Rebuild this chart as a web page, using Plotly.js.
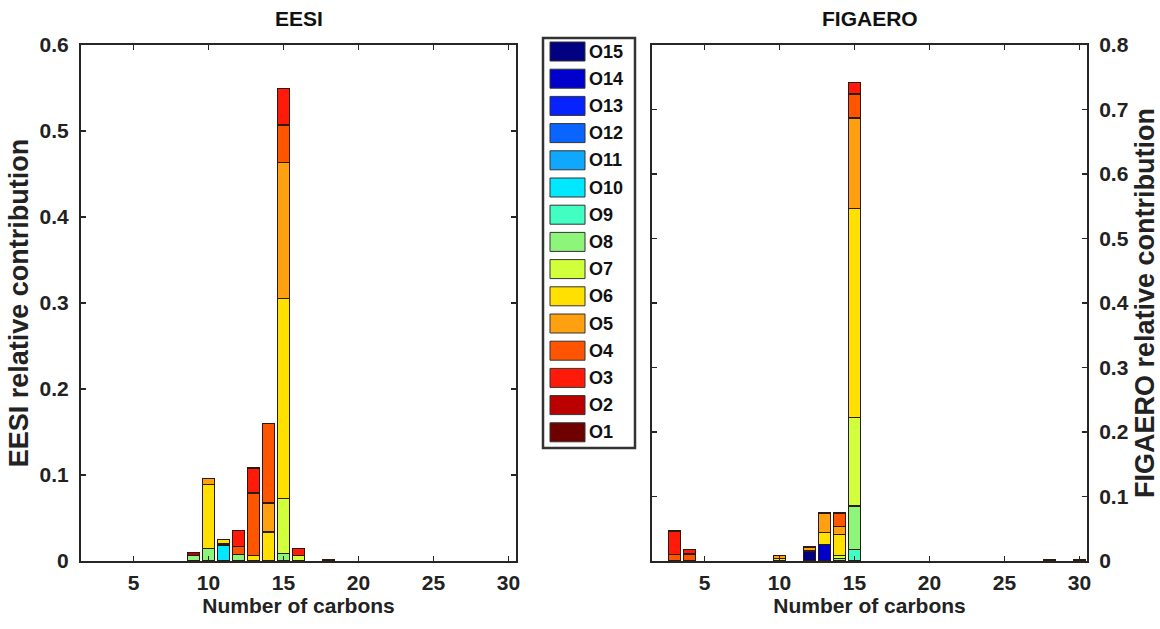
<!DOCTYPE html>
<html>
<head>
<meta charset="utf-8">
<script src="https://cdn.plot.ly/plotly-3.0.1.min.js"></script>
<style>html,body{margin:0;padding:0;background:#fff;}#chart{width:1160px;height:629px;}</style>
</head>
<body>
<div id="chart"></div>
<script>
// ---------- data ----------
const seriesNames = ['O1','O2','O3','O4','O5','O6','O7','O8','O9','O10','O11','O12','O13','O14','O15'];
const seriesColors = ['#6e0000','#bb0000','#ff1a0a','#ff5500','#ffa010','#ffe000','#d2ff3c','#8cf57a','#40ffc0','#00e8ff','#10a8ff','#0a64ff','#0522ff','#0000cc','#000080'];
const xTickVals = [5,10,15,20,25,30];

// EESI (carbon numbers and contribution of each oxygen class)
const eesiCarbons = [9, 10, 11, 12, 13, 14, 15, 16, 18];
const eesiO1  = [0, 0, 0, 0, 0, 0, 0, 0, 0];
const eesiO2  = [0.003, 0, 0, 0, 0, 0, 0, 0, 0];
const eesiO3  = [0, 0, 0, 0.0186, 0.029, 0, 0.0427, 0.0085, 0];
const eesiO4  = [0, 0, 0, 0.009, 0.073, 0.0926, 0.0437, 0, 0];
const eesiO5  = [0, 0.007, 0, 0, 0, 0.0337, 0.158, 0, 0.0015];
const eesiO6  = [0, 0.0744, 0.005, 0, 0.006, 0.0337, 0.2326, 0, 0];
const eesiO7  = [0, 0, 0, 0, 0, 0, 0.0637, 0.006, 0];
const eesiO8  = [0.0065, 0.0148, 0.0015, 0.0075, 0, 0, 0.009, 0, 0];
const eesiO9  = [0, 0, 0, 0, 0, 0, 0, 0, 0];
const eesiO10 = [0, 0, 0.0185, 0, 0, 0, 0, 0, 0];
const eesiO11 = [0, 0, 0, 0, 0, 0, 0, 0, 0];
const eesiO12 = [0, 0, 0, 0, 0, 0, 0, 0, 0];
const eesiO13 = [0, 0, 0, 0, 0, 0, 0, 0, 0];
const eesiO14 = [0, 0, 0, 0, 0, 0, 0, 0, 0];
const eesiO15 = [0, 0, 0, 0, 0, 0, 0, 0, 0];

// FIGAERO
const figCarbons = [3, 4, 10, 12, 13, 14, 15, 28, 30];
const figO1  = [0, 0, 0, 0, 0, 0, 0, 0, 0];
const figO2  = [0, 0, 0, 0, 0, 0, 0, 0, 0];
const figO3  = [0.036, 0.007, 0, 0, 0, 0, 0.018, 0, 0];
const figO4  = [0.0105, 0.011, 0, 0, 0, 0.0207, 0.0372, 0, 0];
const figO5  = [0, 0, 0.005, 0.006, 0.0305, 0.0124, 0.140, 0.002, 0.002];
const figO6  = [0, 0, 0.004, 0, 0.0186, 0.0326, 0.324, 0, 0];
const figO7  = [0, 0, 0, 0, 0, 0.0045, 0.1376, 0, 0];
const figO8  = [0, 0, 0, 0, 0, 0.004, 0.0676, 0, 0];
const figO9  = [0, 0, 0, 0, 0, 0, 0.0177, 0, 0];
const figO10 = [0, 0, 0, 0, 0, 0, 0, 0, 0];
const figO11 = [0, 0, 0, 0, 0, 0, 0, 0, 0];
const figO12 = [0, 0, 0, 0, 0, 0, 0, 0, 0];
const figO13 = [0, 0, 0, 0, 0, 0, 0, 0, 0];
const figO14 = [0, 0, 0, 0, 0.0253, 0, 0, 0, 0];
const figO15 = [0, 0, 0, 0.0155, 0, 0, 0, 0, 0];

const eesiSeries = [eesiO1,eesiO2,eesiO3,eesiO4,eesiO5,eesiO6,eesiO7,eesiO8,eesiO9,eesiO10,eesiO11,eesiO12,eesiO13,eesiO14,eesiO15];
const figSeries  = [figO1,figO2,figO3,figO4,figO5,figO6,figO7,figO8,figO9,figO10,figO11,figO12,figO13,figO14,figO15];

// ---------- traces (O15 at the bottom of each stack, O1 on top) ----------
const traces = [];
for (let i = seriesNames.length - 1; i >= 0; i--) {
  traces.push({
    type: 'bar', name: seriesNames[i], x: eesiCarbons,
    y: eesiSeries[i].map(v => v === 0 ? null : v),
    xaxis: 'x', yaxis: 'y', width: 0.8, showlegend: false,
    marker: {color: seriesColors[i], line: {color: '#2a1a10', width: 1.3}}
  });
}
for (let i = seriesNames.length - 1; i >= 0; i--) {
  traces.push({
    type: 'bar', name: seriesNames[i], x: figCarbons,
    y: figSeries[i].map(v => v === 0 ? null : v),
    xaxis: 'x2', yaxis: 'y2', width: 0.8, showlegend: false,
    marker: {color: seriesColors[i], line: {color: '#2a1a10', width: 1.3}}
  });
}

// ---------- layout ----------
const W = 1160, H = 629;
const px = v => v / W, py = v => 1 - v / H;
const FONT = 'Liberation Sans, Arial, Helvetica, sans-serif';
const tickFont = {family: FONT, size: 21, color: '#222', weight: 'bold'};
const xTitleFont = {family: FONT, size: 21, color: '#222', weight: 'bold'};
const yTitleFont = {family: FONT, size: 27, color: '#222', weight: 'bold'};

const axisCommon = {
  showgrid: false, zeroline: false, showline: true, linecolor: '#262626', linewidth: 2,
  mirror: 'ticks', ticks: 'inside', ticklen: 5, tickwidth: 1.5, tickcolor: '#262626',
  tickfont: tickFont, fixedrange: true
};

const yDomain = [py(561), py(45)];

const layout = {
  width: W, height: H,
  margin: {l: 0, r: 0, t: 0, b: 0},
  paper_bgcolor: '#ffffff', plot_bgcolor: '#ffffff',
  barmode: 'stack', bargap: 0.2,
  showlegend: false,
  xaxis: Object.assign({}, axisCommon, {
    domain: [px(81), px(516)], range: [1.5, 30.5], tickvals: xTickVals, anchor: 'y',
    ticklabelstandoff: 2,
    title: {text: 'Number of carbons', font: xTitleFont, standoff: 1}
  }),
  yaxis: Object.assign({}, axisCommon, {
    domain: yDomain, range: [0, 0.6], dtick: 0.1, anchor: 'x',
    ticklabelstandoff: 6,
    title: {text: 'EESI relative contribution', font: yTitleFont, standoff: 3}
  }),
  xaxis2: Object.assign({}, axisCommon, {
    domain: [px(652), px(1087)], range: [1.5, 30.5], tickvals: xTickVals, anchor: 'y2',
    ticklabelstandoff: 2,
    title: {text: 'Number of carbons', font: xTitleFont, standoff: 1}
  }),
  yaxis2: Object.assign({}, axisCommon, {
    domain: yDomain, range: [0, 0.8], dtick: 0.1, anchor: 'x2', side: 'right',
    ticklabelstandoff: 6,
    title: {text: 'FIGAERO relative contribution', font: yTitleFont, standoff: 10}
  }),
  annotations: [
    {text: 'EESI', x: px(298.5), y: py(19), xref: 'paper', yref: 'paper', showarrow: false,
     xanchor: 'center', yanchor: 'middle', font: {family: FONT, size: 21, color: '#111', weight: 'bold'}},
    {text: 'FIGAERO', x: px(869.5), y: py(19), xref: 'paper', yref: 'paper', showarrow: false,
     xanchor: 'center', yanchor: 'middle', font: {family: FONT, size: 21, color: '#111', weight: 'bold'}}
  ],
  shapes: []
};

// ---------- legend box drawn from the names/colours arrays ----------
layout.shapes.push({type: 'rect', xref: 'paper', yref: 'paper',
  x0: px(543), x1: px(635), y0: py(448), y1: py(38),
  line: {color: '#333', width: 2.5}, fillcolor: '#ffffff', layer: 'above'});
const legTop = 51.5, legStep = 27.2;
for (let k = 0; k < seriesNames.length; k++) {
  const idx = seriesNames.length - 1 - k; // O15 first
  const cy = legTop + k * legStep;
  layout.shapes.push({type: 'rect', xref: 'paper', yref: 'paper',
    x0: px(550), x1: px(585), y0: py(cy + 9.5), y1: py(cy - 9.5),
    line: {color: '#333', width: 1}, fillcolor: seriesColors[idx], layer: 'above'});
  layout.annotations.push({text: seriesNames[idx], x: px(587), y: py(cy), xref: 'paper', yref: 'paper',
    showarrow: false, xanchor: 'left', yanchor: 'middle',
    font: {family: FONT, size: 18, color: '#111', weight: 'bold'}});
}

Plotly.newPlot('chart', traces, layout, {staticPlot: true, displayModeBar: false});
</script>
</body>
</html>
